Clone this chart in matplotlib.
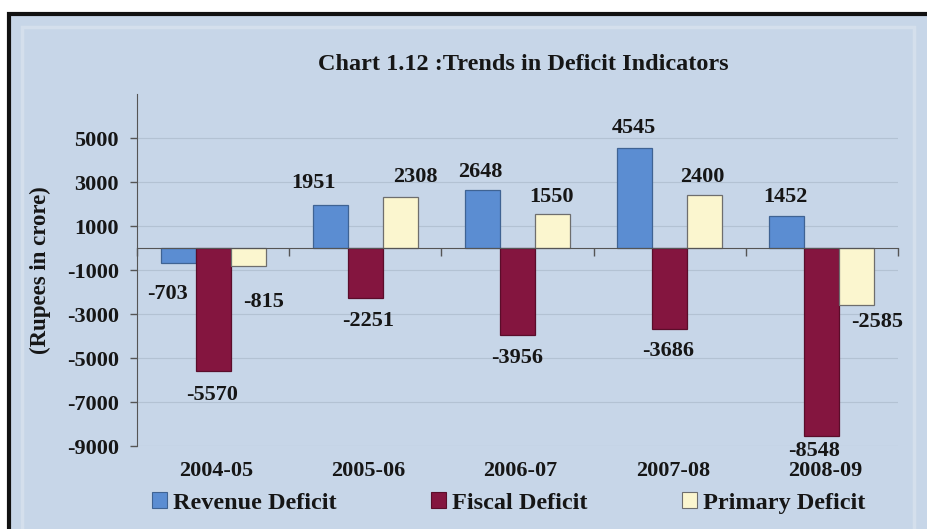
import matplotlib
matplotlib.use("Agg")
import matplotlib.pyplot as plt
from matplotlib.patches import Rectangle, Patch
import numpy as np

# ---- data -------------------------------------------------------------
years = ["2004-05", "2005-06", "2006-07", "2007-08", "2008-09"]
revenue_deficit = [-703, 1951, 2648, 4545, 1452]
fiscal_deficit = [-5570, -2251, -3956, -3686, -8548]
primary_deficit = [-815, 2308, 1550, 2400, -2585]
series_names = ["Revenue Deficit", "Fiscal Deficit", "Primary Deficit"]
y_ticks = [5000, 3000, 1000, -1000, -3000, -5000, -7000, -9000]

# ---- styling ----------------------------------------------------------
plt.rcParams["font.family"] = ["Liberation Serif", "DejaVu Serif"]
plt.rcParams["font.weight"] = "bold"
BG = "#c7d6e8"
colors = ["#5b8dd2", "#84153f", "#fbf6cf"]
edges = ["#3f6393", "#5a0d2a", "#6e6e6e"]
TXT = "#161616"

# label offsets (pixels) from each bar's end, per series
label_offsets = [
    [(-11, -31), (-17, 22), (-2, 18), (-1, 20), (-1, 19)],
    [(-1, -24), (3, -23), (0, -23), (-2, -22), (-8, -15)],
    [(15, -36), (15, 20), (-1, 17), (-2, 18), (20, -17)],
]

W, H = 927, 529
fig = plt.figure(figsize=(W / 100, H / 100), dpi=100, facecolor="white")

# outer framed panel (runs off the right and bottom edges)
fig.patches.append(Rectangle((9 / W, -0.05), 1.1, 1 - 14 / H + 0.05,
                             transform=fig.transFigure, facecolor=BG,
                             edgecolor="#111111", linewidth=3, zorder=-10))
fig.patches.append(Rectangle((22 / W, -0.05), (914 - 22) / W, 1 - 27 / H + 0.05,
                             transform=fig.transFigure, facecolor="none",
                             edgecolor="#d4dfec", linewidth=2.5, zorder=-9))

ax = fig.add_axes([137 / W, (H - 446) / H, (898 - 137) / W, (446 - 94) / H])
ax.set_zorder(2)
ax.set_facecolor("none")

x = np.arange(len(years))
bw = 0.23
all_series = [revenue_deficit, fiscal_deficit, primary_deficit]
for k, vals in enumerate(all_series):
    xs = x + (k - 1) * bw
    ax.bar(xs, vals, width=bw, color=colors[k], edgecolor=edges[k],
           linewidth=0.9, zorder=3, label=series_names[k])
    for i, v in enumerate(vals):
        dx, dy = label_offsets[k][i]
        ax.annotate(f"{v}", xy=(xs[i], v), xytext=(dx, dy),
                    textcoords="offset pixels", ha="center", va="center",
                    fontsize=16, fontweight="bold", color=TXT, zorder=5,
                    annotation_clip=False)

ax.set_xlim(-0.5, len(years) - 0.5)
ax.set_ylim(-9000, 7000)

# y axis
ax.set_yticks(y_ticks)
ax.set_yticklabels([str(t) for t in y_ticks], fontsize=16, fontweight="bold",
                   color=TXT)
ax.tick_params(axis="y", direction="out", length=5, width=1, color="#555555",
               pad=8)
for t in y_ticks:
    ax.axhline(t, color="#b3c2d3", linewidth=0.8, zorder=1)

# x axis drawn through zero with ticks at category boundaries
ax.spines["bottom"].set_position(("data", 0))
ax.spines["bottom"].set_color("#555555")
ax.spines["bottom"].set_zorder(4)
ax.spines["left"].set_color("#555555")
ax.spines["left"].set_bounds(-9000, 7000)
ax.spines["top"].set_visible(False)
ax.spines["right"].set_visible(False)
ax.set_xticks(np.arange(-0.5, len(years), 1.0))
ax.set_xticklabels([])
ax.tick_params(axis="x", direction="out", length=6, width=1, color="#555555")

for i, yr in enumerate(years):
    ax.annotate(yr, xy=(i, 0), xycoords=("data", "axes fraction"),
                xytext=(3, -25), textcoords="offset pixels", ha="center",
                va="center", fontsize=16, fontweight="bold", color=TXT,
                annotation_clip=False)

# title and axis label
fig.text(523 / W, 1 - 64 / H, "Chart 1.12 :Trends in Deficit Indicators",
         ha="center", va="center", fontsize=17.5, fontweight="bold", color=TXT)
fig.text(40 / W, 1 - 270 / H, "(Rupees in crore)", rotation=90, ha="center",
         va="center", fontsize=16.5, fontweight="bold", color=TXT)

handles = [Patch(facecolor=colors[k], edgecolor=edges[k], linewidth=0.8)
           for k in range(3)]
fig.legend(handles, series_names, loc="center left",
           bbox_to_anchor=(152 / W, 1 - 503 / H), ncol=3, frameon=False,
           fontsize=17.5, handlelength=0.6, handleheight=0.6,
           handletextpad=0.25, columnspacing=3.9, borderpad=0,
           borderaxespad=0, labelcolor=TXT)

fig.savefig("out.png", dpi=100, facecolor="white")
